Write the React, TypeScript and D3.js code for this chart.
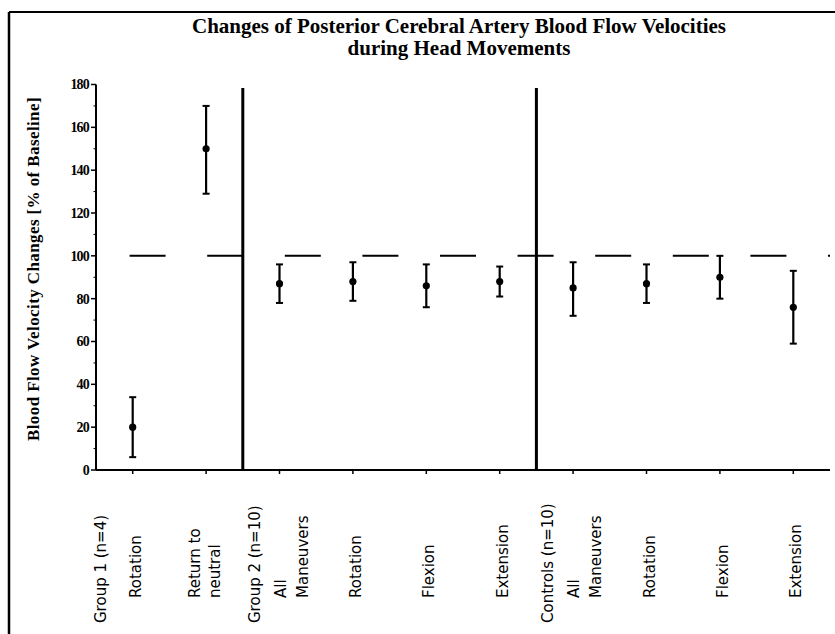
import * as d3 from "d3";
import React, { useEffect, useRef } from "react";

const titleLines = [
  "Changes of Posterior Cerebral Artery Blood Flow Velocities",
  "during Head Movements",
];
const yLabel = "Blood Flow Velocity Changes [% of Baseline]";

const groups = ["Group 1 (n=4)", "Group 2 (n=10)", "Controls (n=10)"];
const categories = [
  "Rotation",
  "Return to\nneutral",
  "All\nManeuvers",
  "Rotation",
  "Flexion",
  "Extension",
  "All\nManeuvers",
  "Rotation",
  "Flexion",
  "Extension",
];
const categoryGroup = [0, 0, 1, 1, 1, 1, 2, 2, 2, 2];
const means = [20, 150, 87, 88, 86, 88, 85, 87, 90, 76];
const upper = [34, 170, 96, 97, 96, 95, 97, 96, 100, 93];
const lower = [6, 129, 78, 79, 76, 81, 72, 78, 80, 59];
const yTicks = [0, 20, 40, 60, 80, 100, 120, 140, 160, 180];
const yMinorTicks = [10, 30, 50, 70, 90, 110, 130, 150, 170];
const baseline = 100;

const W = 835;
const H = 634;

const App: React.FC = () => {
  const svgRef = useRef<SVGSVGElement | null>(null);

  useEffect(() => {
    const svg = d3.select(svgRef.current);
    svg.selectAll("*").remove();

    const left = 96;
    const right = 830;
    const top = 84.5;
    const bottom = 470;
    const serif = "'Liberation Serif', 'Times New Roman', serif";
    const sans = "'DejaVu Sans', Verdana, sans-serif";

    const idx = categories.map((_, i) => String(i));
    const x = d3.scaleBand().domain(idx).range([left, right]).padding(0);
    const cx = (i: number) => x(String(i))! + x.bandwidth() / 2;
    const y = d3.scaleLinear().domain([0, 180]).range([bottom, top]);

    // cadre
    svg
      .append("line")
      .attr("x1", 9)
      .attr("x2", W)
      .attr("y1", 12)
      .attr("y2", 12)
      .attr("stroke", "#000")
      .attr("stroke-width", 2);
    svg
      .append("line")
      .attr("x1", 9)
      .attr("x2", 9)
      .attr("y1", 12)
      .attr("y2", H)
      .attr("stroke", "#000")
      .attr("stroke-width", 2.5);

    // titolo
    svg
      .append("g")
      .selectAll("text")
      .data(titleLines)
      .join("text")
      .attr("x", 459)
      .attr("y", (_, i) => 33 + i * 22)
      .attr("text-anchor", "middle")
      .attr("font-family", serif)
      .attr("font-weight", "bold")
      .attr("font-size", 21)
      .text((d) => d);

    // asse y
    svg
      .append("line")
      .attr("x1", left)
      .attr("x2", left)
      .attr("y1", y(180))
      .attr("y2", bottom)
      .attr("stroke", "#000")
      .attr("stroke-width", 2);
    const yg = svg.append("g");
    yg.selectAll("line.major")
      .data(yTicks)
      .join("line")
      .attr("class", "major")
      .attr("x1", left - 5)
      .attr("x2", left)
      .attr("y1", (d) => y(d))
      .attr("y2", (d) => y(d))
      .attr("stroke", "#000")
      .attr("stroke-width", 1.5);
    yg.selectAll("line.minor")
      .data(yMinorTicks)
      .join("line")
      .attr("class", "minor")
      .attr("x1", left - 2.5)
      .attr("x2", left)
      .attr("y1", (d) => y(d))
      .attr("y2", (d) => y(d))
      .attr("stroke", "#000")
      .attr("stroke-width", 1);
    yg.selectAll("text")
      .data(yTicks)
      .join("text")
      .attr("x", left - 7)
      .attr("y", (d) => y(d))
      .attr("dy", "0.35em")
      .attr("text-anchor", "end")
      .attr("font-family", serif)
      .attr("font-weight", "bold")
      .attr("font-size", 14)
      .attr("letter-spacing", -0.8)
      .text((d) => d);

    svg
      .append("text")
      .attr("transform", `translate(33,${(bottom + 90) / 2 - 11}) rotate(-90)`)
      .attr("text-anchor", "middle")
      .attr("dominant-baseline", "central")
      .attr("font-family", serif)
      .attr("font-weight", "bold")
      .attr("font-size", 17)
      .attr("letter-spacing", 0.4)
      .text(yLabel);

    // asse x
    svg
      .append("line")
      .attr("x1", left)
      .attr("x2", right)
      .attr("y1", bottom)
      .attr("y2", bottom)
      .attr("stroke", "#000")
      .attr("stroke-width", 2);
    svg
      .append("g")
      .selectAll("line")
      .data(categories)
      .join("line")
      .attr("x1", (_, i) => cx(i))
      .attr("x2", (_, i) => cx(i))
      .attr("y1", bottom)
      .attr("y2", bottom + 4)
      .attr("stroke", "#000")
      .attr("stroke-width", 1.5);

    // linea di base 100%
    svg
      .append("line")
      .attr("x1", left)
      .attr("x2", right)
      .attr("y1", y(baseline))
      .attr("y2", y(baseline))
      .attr("stroke", "#000")
      .attr("stroke-width", 2)
      .attr("stroke-dasharray", "36 41.6")
      .attr("stroke-dashoffset", 44);

    // separatori fra gruppi
    const groupStart = groups.map((_, g) => categoryGroup.indexOf(g));
    svg
      .append("g")
      .selectAll("line")
      .data(groupStart.slice(1))
      .join("line")
      .attr("x1", (d) => x(String(d))!)
      .attr("x2", (d) => x(String(d))!)
      .attr("y1", 88)
      .attr("y2", bottom)
      .attr("stroke", "#000")
      .attr("stroke-width", 3);

    // etichette gruppi
    svg
      .append("g")
      .selectAll("text")
      .data(groups)
      .join("text")
      .attr("transform", (_, g) => {
        const gx = x(String(groupStart[g]))! + (g === 0 ? 5 : 12);
        return `translate(${gx},623) rotate(-90)`;
      })
      .attr("dominant-baseline", "central")
      .attr("font-family", sans)
      .attr("font-size", 15)
      .text((d) => d);

    // etichette categorie
    const lab = svg
      .append("g")
      .selectAll("g")
      .data(categories)
      .join("g");
    lab.each(function (d, i) {
      const lines = d.split("\n");
      const first = groupStart.includes(i) && i !== 0;
      lines.forEach((t, k) => {
        const lx =
          lines.length === 1
            ? cx(i) + 3
            : first
              ? cx(i) + 1 + k * 22
              : cx(i) - 11 + k * 20;
        d3.select(this)
          .append("text")
          .attr("transform", `translate(${lx},598) rotate(-90)`)
          .attr("dominant-baseline", "central")
          .attr("font-family", sans)
          .attr("font-size", 15)
          .text(t);
      });
    });

    // barre di errore
    const eb = svg
      .append("g")
      .selectAll("g")
      .data(means)
      .join("g");
    eb.append("line")
      .attr("x1", (_, i) => cx(i))
      .attr("x2", (_, i) => cx(i))
      .attr("y1", (_, i) => y(upper[i]))
      .attr("y2", (_, i) => y(lower[i]))
      .attr("stroke", "#000")
      .attr("stroke-width", 2.2);
    eb.append("line")
      .attr("x1", (_, i) => cx(i) - 3.5)
      .attr("x2", (_, i) => cx(i) + 3.5)
      .attr("y1", (_, i) => y(upper[i]))
      .attr("y2", (_, i) => y(upper[i]))
      .attr("stroke", "#000")
      .attr("stroke-width", 2);
    eb.append("line")
      .attr("x1", (_, i) => cx(i) - 3.5)
      .attr("x2", (_, i) => cx(i) + 3.5)
      .attr("y1", (_, i) => y(lower[i]))
      .attr("y2", (_, i) => y(lower[i]))
      .attr("stroke", "#000")
      .attr("stroke-width", 2);
    eb.append("circle")
      .attr("cx", (_, i) => cx(i))
      .attr("cy", (d) => y(d))
      .attr("r", 3.6)
      .attr("fill", "#000");

    svg.attr("width", W).attr("height", H);
  }, []);

  return (
    <svg
      ref={svgRef}
      style={{ position: "absolute", left: 0, top: 0, background: "#fff" }}
    />
  );
};

export default App;
